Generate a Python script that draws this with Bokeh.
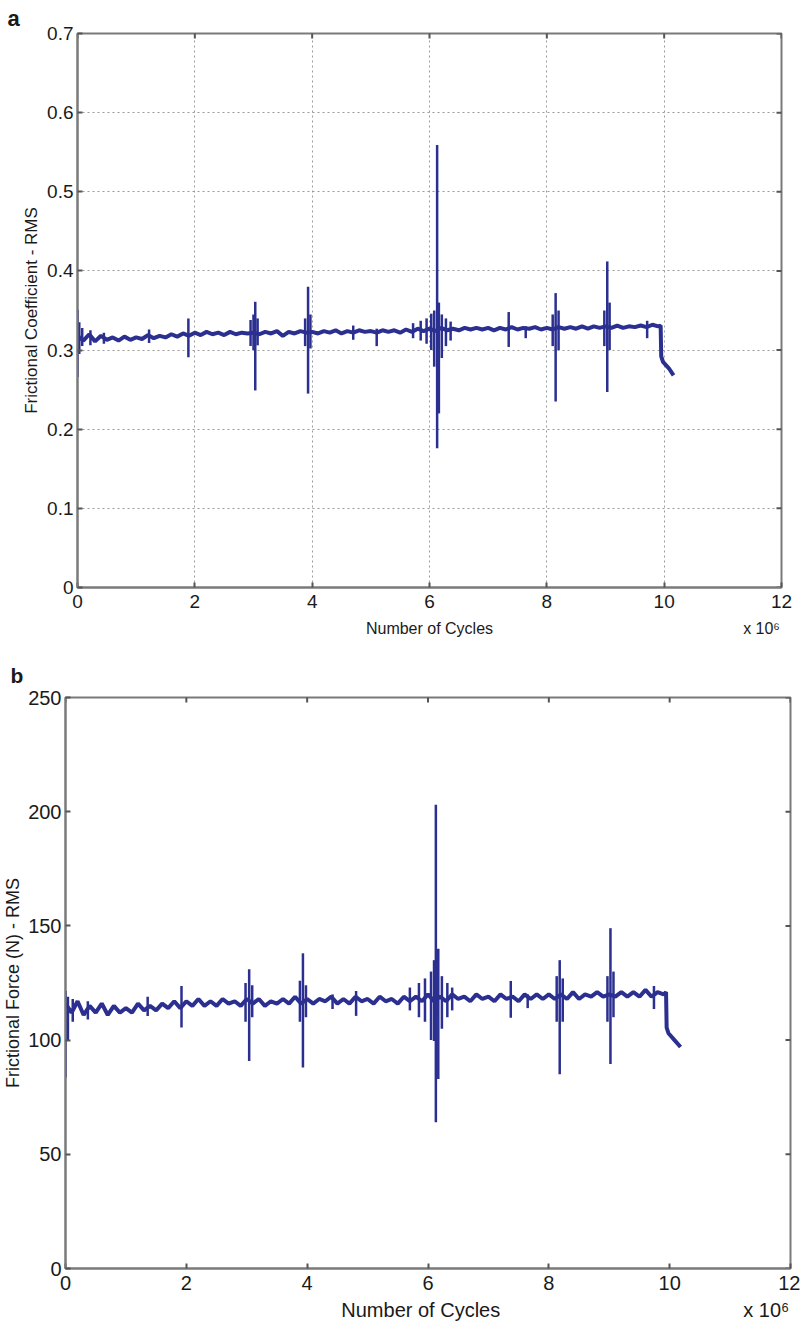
import math
from bokeh.plotting import figure
from bokeh.layouts import column, row
from bokeh.models import LinearAxis, Range1d, FixedTicker, Title
from bokeh.embed import file_html
from bokeh.resources import INLINE

# ---------------- data (x in units of 10^6 cycles) ----------------
grid_x = [round(i * 0.1, 1) for i in range(100)]

# Panel a: frictional coefficient RMS
coef_base = [
    0.318, 0.312, 0.320, 0.311, 0.318, 0.313, 0.316, 0.312, 0.317, 0.313,
    0.316, 0.314, 0.319, 0.315, 0.318, 0.316, 0.320, 0.317, 0.321, 0.318,
    0.322, 0.319, 0.323, 0.320, 0.322, 0.319, 0.323, 0.320, 0.322, 0.321,
    0.322, 0.320, 0.323, 0.321, 0.324, 0.318, 0.323, 0.321, 0.324, 0.322,
    0.323, 0.321, 0.324, 0.322, 0.325, 0.321, 0.324, 0.322, 0.325, 0.323,
    0.324, 0.322, 0.325, 0.323, 0.325, 0.322, 0.326, 0.323, 0.327, 0.324,
    0.327, 0.324, 0.328, 0.325, 0.327, 0.325, 0.328, 0.326, 0.328, 0.326,
    0.328, 0.325, 0.328, 0.326, 0.329, 0.326, 0.328, 0.327, 0.329, 0.326,
    0.328, 0.326, 0.329, 0.327, 0.329, 0.327, 0.330, 0.327, 0.330, 0.328,
    0.330, 0.328, 0.331, 0.328, 0.330, 0.329, 0.331, 0.329, 0.332, 0.330,
]
coef_tail_x = [9.94, 9.95, 9.98, 10.08, 10.16]
coef_tail_y = [0.331, 0.292, 0.285, 0.277, 0.268]

coef_spike_x = [0.00, 0.03, 0.08, 0.22, 0.45, 1.22, 1.89, 2.95, 3.00, 3.03, 3.07,
                3.88, 3.93, 3.97, 4.70, 5.10, 5.72, 5.85, 5.95, 6.03, 6.08, 6.13,
                6.16, 6.21, 6.28, 6.36, 7.35, 7.64, 8.10, 8.15, 8.20, 8.98, 9.03,
                9.07, 9.71]
coef_spike_lo = [0.266, 0.295, 0.305, 0.306, 0.308, 0.309, 0.291, 0.305, 0.300, 0.249, 0.306,
                 0.305, 0.245, 0.302, 0.313, 0.305, 0.315, 0.312, 0.308, 0.300, 0.279, 0.176,
                 0.220, 0.290, 0.305, 0.312, 0.304, 0.315, 0.305, 0.235, 0.300, 0.305, 0.247,
                 0.300, 0.315]
coef_spike_hi = [0.351, 0.335, 0.328, 0.325, 0.322, 0.326, 0.340, 0.338, 0.345, 0.361, 0.340,
                 0.340, 0.380, 0.345, 0.331, 0.327, 0.334, 0.337, 0.340, 0.346, 0.350, 0.559,
                 0.360, 0.345, 0.340, 0.336, 0.348, 0.330, 0.345, 0.372, 0.350, 0.350, 0.412,
                 0.360, 0.337]

# Panel b: frictional force RMS (N)
force_base = [
    116, 112, 117, 111, 115, 112, 116, 111, 115, 112,
    114, 112, 116, 113, 115, 113, 116, 114, 117, 114,
    117, 115, 118, 115, 117, 115, 118, 116, 117, 115,
    118, 116, 118, 115, 117, 116, 118, 116, 119, 116,
    118, 116, 118, 117, 119, 116, 118, 116, 119, 117,
    118, 116, 119, 117, 118, 116, 119, 117, 119, 117,
    120, 117, 119, 117, 120, 118, 119, 117, 120, 118,
    119, 117, 120, 118, 119, 117, 120, 118, 120, 118,
    120, 118, 120, 118, 121, 118, 120, 119, 121, 119,
    120, 119, 121, 119, 121, 119, 122, 119, 121, 120,
]
force_tail_x = [9.94, 9.95, 9.98, 10.08, 10.18]
force_tail_y = [121, 105.5, 103, 100, 97]

force_spike_x = [0.00, 0.04, 0.12, 0.37, 1.36, 1.92, 2.98, 3.04, 3.09, 3.88, 3.93,
                 3.98, 4.42, 4.81, 5.70, 5.85, 5.95, 6.05, 6.10, 6.13, 6.17, 6.23,
                 6.32, 6.40, 7.37, 7.65, 8.13, 8.18, 8.23, 8.97, 9.02, 9.07, 9.74]
force_spike_lo = [83.6, 100, 108, 109, 110.6, 105.5, 108, 90.9, 110, 108, 88,
                  110, 113.6, 110.6, 113, 110, 108, 100, 99.6, 64, 83, 105,
                  110, 113, 109.8, 114, 108, 85, 108, 108, 89.5, 110, 113.6]
force_spike_hi = [121.5, 119, 118, 117, 119, 123.7, 125, 131, 124, 126, 138,
                  124, 120, 121.5, 123, 125, 127, 130, 135, 203, 140, 128,
                  125, 123, 125.9, 120, 128, 135, 127, 128, 149, 130, 123.7]

x_ticks = [0, 2, 4, 6, 8, 10, 12]
coef_ticks = [0, 0.1, 0.2, 0.3, 0.4, 0.5, 0.6, 0.7]
force_ticks = [0, 50, 100, 150, 200, 250]
x_title = "Number of Cycles"
x_scale = "x 10\u2076"

LINE = "#2b2f8f"
AX = "#7a7a7a"
TICK = "#555555"
FONT = "Liberation Sans"
TXT = "#1a1a1a"


def build(p, yticks, ymax, tick_size, xtitle_size, ytitle_size, ylabel, ylabel_standoff,
          title_x, scale_x, title_standoff, grid):
    p.xaxis.ticker = FixedTicker(ticks=x_ticks)
    p.yaxis.ticker = FixedTicker(ticks=yticks)
    for ax in p.xaxis + p.yaxis:
        ax.axis_line_color = AX
        ax.axis_line_width = 2
        ax.major_tick_line_color = TICK
        ax.major_tick_line_width = 2
        ax.major_tick_out = 0
        ax.major_tick_in = 5
        ax.minor_tick_line_color = None
        ax.major_label_text_font = FONT
        ax.major_label_text_font_size = tick_size
        ax.major_label_text_color = TXT
    p.xaxis.major_label_standoff = 7
    p.yaxis.major_label_standoff = 4
    p.yaxis.axis_label = ylabel
    p.yaxis.axis_label_text_font = FONT
    p.yaxis.axis_label_text_font_size = ytitle_size
    p.yaxis.axis_label_text_font_style = "normal"
    p.yaxis.axis_label_text_color = TXT
    p.yaxis.axis_label_standoff = ylabel_standoff

    # second bottom axis carrying the x title and the x 10^6 multiplier
    lab = LinearAxis(ticker=FixedTicker(ticks=[title_x, scale_x]),
                     major_label_overrides={title_x: x_title, scale_x: x_scale},
                     axis_line_color=None, major_tick_line_color=None,
                     minor_tick_line_color=None, major_tick_in=0, major_tick_out=0,
                     major_label_text_font=FONT, major_label_text_font_size=xtitle_size,
                     major_label_text_color=TXT, major_label_standoff=title_standoff)
    p.add_layout(lab, "below")

    p.outline_line_color = AX
    p.outline_line_width = 2
    # inward ticks on the top and right edges of the box
    p.scatter(x=x_ticks, y=[ymax] * len(x_ticks), marker="dash", angle=math.pi / 2,
              size=10, line_color=TICK, line_width=2)
    p.scatter(x=[12] * len(yticks), y=yticks, marker="dash",
              size=10, line_color=TICK, line_width=2)

    if grid:
        for g in (p.xgrid, p.ygrid):
            g.grid_line_color = "#9a9a9a"
            g.grid_line_dash = "2 3"
            g.grid_line_width = 1
        p.xgrid.ticker = FixedTicker(ticks=x_ticks)
        p.ygrid.ticker = FixedTicker(ticks=yticks)
    else:
        p.xgrid.grid_line_color = None
        p.ygrid.grid_line_color = None
    p.background_fill_color = "white"
    p.border_fill_color = "white"


# ---------------- panel a ----------------
p1 = figure(width=800, height=650, x_range=Range1d(0, 12), y_range=Range1d(0, 0.7),
            output_backend="svg", toolbar_location=None,
            min_border_left=77, min_border_right=19, min_border_top=33, min_border_bottom=63)
p1.add_layout(Title(text="a", align="left", offset=-70, standoff=6, text_font=FONT,
                    text_font_size="22px", text_font_style="bold", text_color=TXT), "above")
build(p1, coef_ticks, 0.7, "19px", "16px", "17px", "Frictional Coefficient - RMS", 3,
      6.0, 11.66, 9, True)
p1.segment(x0=coef_spike_x, y0=coef_spike_lo, x1=coef_spike_x, y1=coef_spike_hi,
           line_color=LINE, line_width=2.5)
p1.line(grid_x + coef_tail_x, coef_base + coef_tail_y, line_color=LINE, line_width=4)

# ---------------- panel b ----------------
p2 = figure(width=800, height=680, x_range=Range1d(0, 12), y_range=Range1d(0, 250),
            output_backend="svg", toolbar_location=None,
            min_border_left=64, min_border_right=10, min_border_top=46, min_border_bottom=62)
p2.add_layout(Title(text="b", align="left", offset=-55, standoff=22, text_font=FONT,
                    text_font_size="21px", text_font_style="bold", text_color=TXT), "above")
build(p2, force_ticks, 250, "20px", "20px", "18px", "Frictional Force (N) - RMS", 2,
      5.88, 11.6, 6, False)
p2.segment(x0=force_spike_x, y0=force_spike_lo, x1=force_spike_x, y1=force_spike_hi,
           line_color=LINE, line_width=2.5)
p2.line(grid_x + force_tail_x, force_base + force_tail_y, line_color=LINE, line_width=4)

layout = column(row(p1), row(p2), spacing=0)
open("out.html", "w").write(file_html(layout, INLINE))
